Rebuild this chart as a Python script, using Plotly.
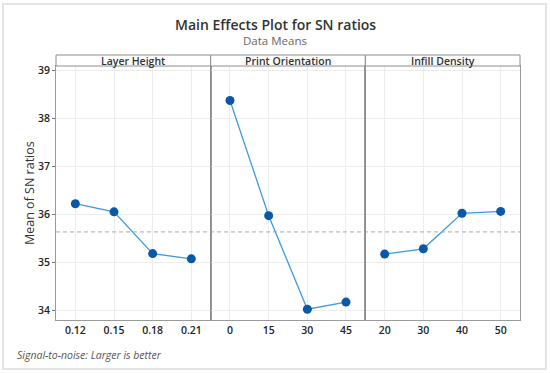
import plotly.graph_objects as go
from plotly.subplots import make_subplots

panels = ["Layer Height", "Print Orientation", "Infill Density"]
layer_levels = ["0.12", "0.15", "0.18", "0.21"]
layer_sn = [36.23, 36.06, 35.19, 35.08]
orient_levels = ["0", "15", "30", "45"]
orient_sn = [38.38, 35.98, 34.03, 34.18]
infill_levels = ["20", "30", "40", "50"]
infill_sn = [35.18, 35.29, 36.03, 36.07]
y_ticks = [34, 35, 36, 37, 38, 39]

levels = [layer_levels, orient_levels, infill_levels]
values = [layer_sn, orient_sn, infill_sn]
all_vals = layer_sn + orient_sn + infill_sn
grand_mean = sum(all_vals) / len(all_vals)

FONT = "Open Sans, Noto Sans, sans-serif"
W, H = 550, 373
ML, MR, MT, MB = 56, 30, 66, 53
PW, PH = W - ML - MR, H - MT - MB

def px(x):
    return (x - ML) / PW

def py(y):
    return 1 + (MT - y) / PH

fig = make_subplots(rows=1, cols=3, shared_yaxes=True, horizontal_spacing=0)

for i, (lv, vals) in enumerate(zip(levels, values)):
    fig.add_trace(go.Scatter(
        x=lv, y=vals, mode="lines+markers",
        line=dict(color="#3C9BDC", width=1.3),
        marker=dict(color="#0B57A8", size=9),
        showlegend=False, hoverinfo="x+y"),
        row=1, col=i + 1)
    fig.update_xaxes(
        type="category", categoryorder="array", categoryarray=lv,
        range=[-0.5, 3.5], showgrid=True, gridcolor="#ececec", gridwidth=1,
        showline=True, linecolor="#9a9a9a", linewidth=1, mirror=True,
        ticks="", tickfont=dict(family=FONT, size=10.5, color="#222", weight=600),
        zeroline=False, automargin=False, row=1, col=i + 1)

fig.update_yaxes(range=[33.806, 39.1], tickvals=y_ticks, showgrid=True,
                 gridcolor="#ececec", gridwidth=1, showline=True,
                 linecolor="#9a9a9a", linewidth=1, mirror=True,
                 zeroline=False, automargin=False)
fig.update_yaxes(ticks="outside", ticklen=3, tickcolor="#777",
                 tickfont=dict(family=FONT, size=10.5, color="#222", weight=600),
                 row=1, col=1)

shapes = []
# grand mean reference line
shapes.append(dict(type="line", xref="paper", yref="y", x0=0, x1=1,
                   y0=grand_mean, y1=grand_mean,
                   line=dict(color="#a8a8a8", width=1, dash="4px,3px")))
# strips
strip_top = py(55)
for i, name in enumerate(panels):
    x0, x1 = i / 3, (i + 1) / 3
    shapes.append(dict(type="rect", xref="paper", yref="paper",
                       x0=x0, x1=x1, y0=1, y1=strip_top,
                       line=dict(color="#8c8c8c", width=1),
                       fillcolor="white"))
# panel dividers
for d in [1 / 3, 2 / 3]:
    shapes.append(dict(type="line", xref="paper", yref="paper",
                       x0=d, x1=d, y0=0, y1=1,
                       line=dict(color="#8c8c8c", width=1.2)))
# outer frame
shapes.append(dict(type="rect", xref="paper", yref="paper",
                   x0=px(3), x1=px(546), y0=py(369), y1=py(4),
                   line=dict(color="#e4e4e4", width=2), layer="below"))

annotations = []
for i, name in enumerate(panels):
    annotations.append(dict(text=name, xref="paper", yref="paper",
                            x=(i + 0.5) / 3, y=(1 + strip_top) / 2,
                            showarrow=False, xanchor="center", yanchor="middle",
                            font=dict(family=FONT, size=10.5, color="#333",
                                      weight=600)))
annotations.append(dict(text="Main Effects Plot for SN ratios", xref="paper",
                        yref="paper", x=px(275), y=py(24), showarrow=False,
                        xanchor="center", yanchor="middle",
                        font=dict(family=FONT, size=14, color="#333",
                                  weight=600)))
annotations.append(dict(text="Data Means", xref="paper", yref="paper",
                        x=px(275), y=py(41), showarrow=False,
                        xanchor="center", yanchor="middle",
                        font=dict(family=FONT, size=11.5, color="#666")))
annotations.append(dict(text="Mean of SN ratios", xref="paper", yref="paper",
                        x=px(29), y=py(193), showarrow=False, textangle=-90,
                        xanchor="center", yanchor="middle",
                        font=dict(family=FONT, size=12.5, color="#333")))
annotations.append(dict(text="<i>Signal-to-noise: Larger is better</i>",
                        xref="paper", yref="paper", x=px(15), y=py(355),
                        xanchor="left", yanchor="middle", showarrow=False,
                        font=dict(family=FONT, size=10.5, color="#555")))

fig.update_layout(width=W, height=H, margin=dict(l=ML, r=MR, t=MT, b=MB,
                                                 autoexpand=False),
                  paper_bgcolor="white", plot_bgcolor="white",
                  shapes=shapes, annotations=annotations,
                  font=dict(family=FONT))

fig.write_html("out.html", config={"displayModeBar": False},
               post_script="document.body.style.margin='0';"
                           "document.body.style.overflow='hidden';")
